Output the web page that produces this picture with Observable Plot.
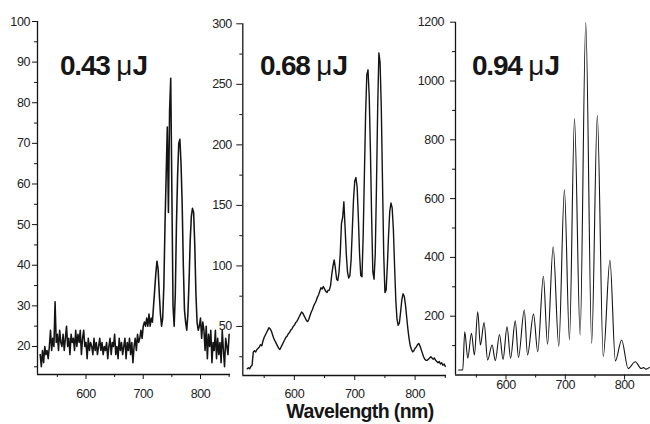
<!DOCTYPE html>
<html><head><meta charset="utf-8">
<script src="https://cdn.jsdelivr.net/npm/d3@7"></script>
<script src="https://cdn.jsdelivr.net/npm/@observablehq/plot@0.6"></script>
<style>
html,body{margin:0;padding:0;background:#fff;}
#wrap{position:relative;width:650px;height:424px;overflow:hidden;font-family:"Liberation Sans",Arial,sans-serif;}
#wrap svg{position:absolute;top:0;max-width:none;}
.title{position:absolute;font-size:28px;font-weight:bold;letter-spacing:-1.2px;color:#161616;line-height:28px;white-space:nowrap;}
.title .mu{font-weight:normal;letter-spacing:0;}
#xlabel{position:absolute;left:0;width:720px;top:401px;text-align:center;font-size:19.5px;font-weight:bold;letter-spacing:-0.6px;color:#161616;line-height:20px;}
</style>
</head><body>
<div id="wrap"></div>
<script>
// ---------- Data ----------
const titles = ["0.43", "0.68", "0.94"];
const xTickLabels = [600, 700, 800];
const xMinorTicks = [550, 650, 750, 850];

// Panel 1 (0.43 µJ): intensity every 2 nm from 520 nm
const p1Start = 520, p1Step = 2;
const p1Values = [
  18,15,19,16,20,18,19,17,20,24,
  19,22,20,31,21,23,19,24,21,20,
  23,19,22,25,20,22,18,23,21,22,
  19,24,20,23,21,24,18,22,24,20,
  21,17,22,19,21,20,18,22,19,21,
  18,20,22,19,21,18,20,19,21,17,
  20,22,18,21,20,23,18,20,17,22,
  19,21,18,20,22,17,21,19,22,18,
  21,16,20,22,19,23,21,22,24,22,
  25,26,25,27,25,28,25,27,26,30,
  34,38,41,39,33,28,25,27,35,50,
  62,74,53,78,86,58,30,25,33,50,
  62,70,71,65,55,40,29,26,24,28,
  36,46,52,54,53,45,33,26,24,25,
  27,22,26,24,19,25,17,23,20,24,
  16,21,19,24,17,22,18,21,16,24,
  19,15,22,20,18,23
];
const p1YTicks = [20,30,40,50,60,70,80,90,100];
const p1YMinor = [15,25,35,45,55,65,75,85,95];

// Panel 2 (0.68 µJ): intensity every 2 nm from 522 nm
const p2Start = 522, p2Step = 2;
const p2Values = [
  15,16,15,17,18,29,30,29,31,32,
  33,35,34,38,41,43,45,47,49,48,
  46,43,40,38,36,34,32,31,33,35,
  37,39,41,42,44,45,47,48,50,51,
  53,54,56,58,60,62,61,59,57,55,
  54,56,59,62,64,67,69,71,74,76,
  79,82,81,83,81,79,78,80,80,84,
  93,100,105,98,89,88,95,110,135,140,
  153,132,110,95,90,92,105,130,155,170,
  173,165,140,110,92,91,125,175,225,258,
  262,240,195,140,95,89,110,165,230,276,
  268,230,170,110,78,80,100,125,145,152,
  148,130,100,72,56,51,53,62,72,77,
  75,68,58,48,40,34,31,29,30,32,
  33,35,36,34,31,28,25,23,22,22,
  23,24,25,24,23,24,22,21,20,21,
  19,20,18,19,17
];
const p2YTicks = [50,100,150,200,250,300];
const p2YMinor = [25,75,125,175,225,275];

// Panel 3 (0.94 µJ): peaks and valleys
const p3Wl = [520,527,530.4,535.5,541.7,546.7,552.3,556.8,563,569,576.5,582,589,595,601.7,607.7,615.6,621,630.8,636.3,646.4,653.5,663,670,679.5,689,698.5,707,715.5,725,734.5,744.5,754,764,775.3,784.5,795,806,818,828,832,836,842];
const p3Values = [17,17,147,57,142,68,215,102,178,51,102,49,138,53,164,57,184,60,221,68,207,79,336,105,436,98,630,120,872,136,1200,108,883,62,390,48,119,22,45,22,25,20,26];
const p3YTicks = [200,400,600,800,1000,1200];
const p3YMinor = [100,300,500,700,900,1100];

// ---------- Drawing ----------
const wrap = document.getElementById("wrap");
const ink = "#141414";

function series(start, step, vals) {
  return vals.map((v, i) => ({wl: start + i * step, v}));
}

function panel(o) {
  const xMin = o.xDomain[0], xMax = o.xDomain[1];
  const svg = Plot.plot({
    width: o.width, height: 424,
    marginLeft: o.mL, marginRight: o.mR, marginTop: o.mT, marginBottom: o.mB,
    x: {domain: o.xDomain, label: null},
    y: {domain: o.yDomain, label: null},
    style: {background: "transparent", fontFamily: "'Liberation Sans', Arial, sans-serif", fontSize: "12.5px", color: "#222", overflow: "visible"},
    marks: [
      Plot.axisY({ticks: o.yTicks, tickFormat: d => String(d), tickSize: o.yTick, tickPadding: o.yPad, label: null, stroke: ink, strokeWidth: 1, fontSize: 12.5, fill: "#222"}),
      Plot.axisY({ticks: o.yMinor, tickSize: 3, text: null, label: null, stroke: ink}),
      Plot.axisX({ticks: xTickLabels, tickFormat: d => String(d), tickSize: 5, tickPadding: o.xPad, label: null, stroke: ink, fontSize: 12.5, fill: "#222"}),
      Plot.axisX({ticks: xMinorTicks.filter(t => t > xMin && t < xMax), tickSize: 3, text: null, label: null, stroke: ink}),
      Plot.ruleX([xMin], {stroke: ink, strokeWidth: 1.3}),
      Plot.ruleY([o.yDomain[0]], {stroke: ink, strokeWidth: 1.3}),
      Plot.line(o.data, {x: "wl", y: "v", stroke: ink, strokeWidth: o.sw, curve: o.curve})
    ]
  });
  svg.style.left = o.left + "px";
  svg.querySelectorAll("text").forEach(t => t.style.letterSpacing = "-0.4px");
  wrap.appendChild(svg);
}

panel({data: series(p1Start, p1Step, p1Values), xDomain: [515.3, 852.4], yDomain: [13.1, 100],
  width: 232, left: 0, mL: 37, mR: 2, mT: 21, mB: 50,
  yTicks: p1YTicks, yMinor: p1YMinor, yTick: 5, yPad: 2.5, xPad: 9.5, sw: 1.55, curve: "linear"});

panel({data: series(p2Start, p2Step, p2Values), xDomain: [514.6, 852], yDomain: [9.5, 300],
  width: 248, left: 200, mL: 42.3, mR: 2, mT: 23.3, mB: 49,
  yTicks: p2YTicks, yMinor: p2YMinor, yTick: 6, yPad: 5, xPad: 9, sw: 1.4, curve: "linear"});

panel({data: p3Wl.map((w, i) => ({wl: w, v: p3Values[i]})), xDomain: [514.8, 843.7], yDomain: [0, 1200],
  width: 230, left: 420, mL: 35, mR: 0, mT: 21.7, mB: 49.5,
  yTicks: p3YTicks, yMinor: p3YMinor, yTick: 5, yPad: 6.5, xPad: 0.5, sw: 1.1, curve: "monotone-x"});

// Titles
const titleLeft = [60, 260, 472];
titles.forEach((t, i) => {
  const d = document.createElement("div");
  d.className = "title";
  d.style.left = titleLeft[i] + "px";
  d.style.top = "52px";
  d.innerHTML = t + " <span class='mu'>\u03BC</span>J";
  wrap.appendChild(d);
});
const xl = document.createElement("div");
xl.id = "xlabel";
xl.textContent = "Wavelength (nm)";
wrap.appendChild(xl);
</script>
</body></html>
